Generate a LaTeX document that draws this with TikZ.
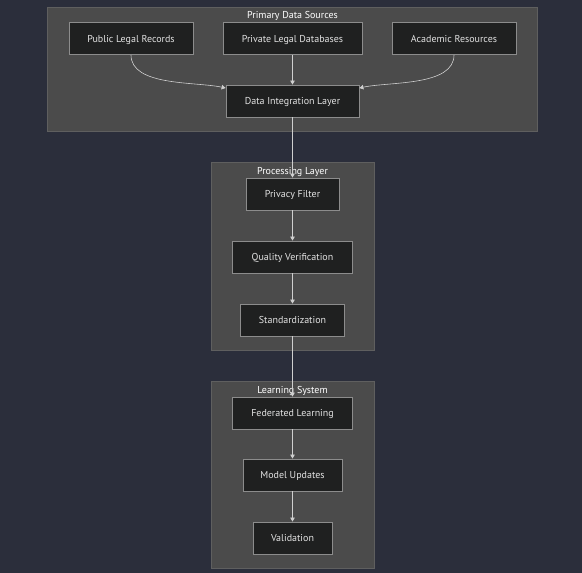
\documentclass[tikz,border=0pt]{standalone}
\usepackage{fontspec}
\setmainfont{PT Sans}
\usepackage{xcolor}
\usetikzlibrary{
    arrows.meta,
    positioning
}
\definecolor{bgcol}{HTML}{2B2E3B}
\definecolor{grpfill}{HTML}{4B4B4B}
\definecolor{grpline}{HTML}{5F5F5F}
\definecolor{boxfill}{HTML}{1F2020}
\definecolor{boxline}{HTML}{8C8C8C}
\definecolor{edgecol}{HTML}{CFCFCF}
\definecolor{txtcol}{HTML}{E2E2E2}

\begin{document}
\begin{tikzpicture}[x=1pt, y=-1pt,
        group/.style={fill=grpfill, draw=grpline, line width=0.8pt},
        grouptitle/.style={text=white, font=\fontsize{10}{11}\selectfont, inner sep=0pt,
            text height=7pt, text depth=0pt},
        stage/.style={rectangle, fill=boxfill, draw=boxline, line width=0.8pt, text=txtcol,
            font=\fontsize{10}{11}\selectfont, minimum height=32pt, inner sep=0pt,
            text height=7pt, text depth=0pt},
        flow/.style={draw=edgecol, line width=0.6pt, -{Triangle[width=4.5pt, length=4pt]}}]
    \fill[bgcol] (0, 0) rectangle (582, 573);
    \useasboundingbox (0, 0) rectangle (582, 573);
    % groups
    \draw[group] (47, 7) rectangle (537, 131);
    \draw[group] (211, 162) rectangle (374, 350);
    \draw[group] (211, 381) rectangle (374, 568);
    \node[grouptitle] (srcT) at (292.5, 15) {Primary Data Sources};
    \node[grouptitle] (procT) at (292.5, 170.5) {Processing Layer};
    \node[grouptitle] (learnT) at (292.5, 389.5) {Learning System};
    % sources
    \node[stage, minimum width=124pt] (pub) at (131, 38.5) {Public Legal Records};
    \node[stage, minimum width=139pt] (pri) at (292.5, 38.5) {Private Legal Databases};
    \node[stage, minimum width=124pt] (aca) at (454, 38.5) {Academic Resources};
    \node[stage, minimum width=133pt] (dil) at (292.5, 101) {Data Integration Layer};
    % processing
    \node[stage, minimum width=93pt] (pf) at (292.5, 194) {Privacy Filter};
    \node[stage, minimum width=120pt] (qv) at (292.5, 257) {Quality Verification};
    \node[stage, minimum width=104pt] (std) at (292.5, 320) {Standardization};
    % learning
    \node[stage, minimum width=120pt] (fl) at (292.5, 413) {Federated Learning};
    \node[stage, minimum width=99pt] (mu) at (292.5, 475) {Model Updates};
    \node[stage, minimum width=79pt] (val) at (292.5, 538) {Validation};
    % edges
    \draw[flow] (pub.south) to[out=-90, in=168, looseness=0.8] (dil.169);
    \draw[flow] (aca.south) to[out=-90, in=12, looseness=0.8] (dil.11);
    \draw[flow] (pri) -- (dil);
    \draw[flow] (dil) -- (pf);
    \draw[flow] (pf) -- (qv);
    \draw[flow] (qv) -- (std);
    \draw[flow] (std) -- (fl);
    \draw[flow] (fl) -- (mu);
    \draw[flow] (mu) -- (val);
\end{tikzpicture}
\end{document}
